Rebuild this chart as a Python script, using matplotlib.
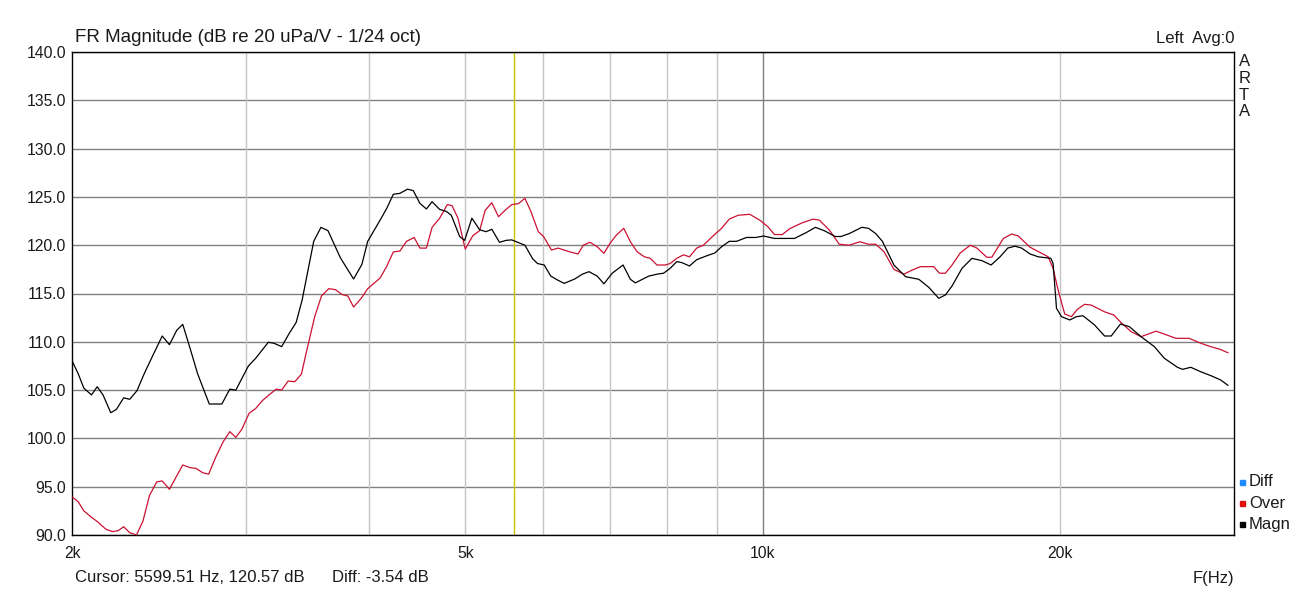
import matplotlib
matplotlib.use("Agg")
import matplotlib.pyplot as plt

plt.rcParams['font.family'] = ['Liberation Sans', 'DejaVu Sans']

# Magn (black)
magn_freq = [2003, 2029, 2056, 2093, 2121, 2150, 2189, 2218, 2256, 2288, 2327, 2369, 2415, 2468,
             2510, 2553, 2589, 2634, 2680, 2754, 2836, 2889, 2930, 3017, 3069, 3160, 3202, 3260,
             3315, 3372, 3419, 3513, 3573, 3632, 3738, 3855, 3930, 3984, 4101, 4164, 4229, 4295,
             4371, 4430, 4499, 4568, 4629, 4712, 4785, 4841, 4936, 4994, 5079, 5171, 5250, 5320,
             5416, 5499, 5573, 5651, 5747, 5851, 5919, 6011, 6104, 6200, 6297, 6454, 6570, 6672,
             6802, 6909, 7043, 7224, 7348, 7434, 7669, 7818, 7939, 8061, 8187, 8283, 8433, 8576,
             8778, 8948, 9088, 9252, 9410, 9631, 9840, 10025, 10283, 10771, 11067, 11309, 11547,
             11845, 12003, 12236, 12602, 12799, 13017, 13221, 13581, 13955, 14393, 14730, 15076,
             15311, 15551, 15915, 16288, 16670, 17033, 17393, 17707, 18008, 18290, 18646, 19007,
             19576, 19680, 19836, 20068, 20458, 20778, 21098, 21678, 22187, 22534, 23026, 23513,
             24158, 24916, 25500, 26298, 26604, 27127, 27764, 28414, 29080, 29577]
magn_db = [107.9, 106.7, 105.2, 104.5, 105.35, 104.5, 102.66, 103.0, 104.2, 104.05, 104.94, 106.8,
           108.6, 110.6, 109.7, 111.2, 111.8, 109.3, 106.7, 103.56, 103.56, 105.1, 105.0, 107.5,
           108.3, 109.95, 109.85, 109.5, 110.8, 112.0, 114.3, 120.4, 121.85, 121.5, 118.7, 116.5,
           118.0, 120.4, 122.6, 123.8, 125.27, 125.37, 125.8, 125.65, 124.34, 123.75, 124.5,
           123.7, 123.5, 123.1, 120.9, 120.5, 122.8, 121.6, 121.4, 121.65, 120.3, 120.5, 120.55,
           120.3, 120.0, 118.6, 118.1, 117.95, 116.8, 116.4, 116.05, 116.5, 117.0, 117.26, 116.8,
           116.0, 117.1, 117.95, 116.47, 116.1, 116.8, 117.0, 117.1, 117.6, 118.3, 118.2, 117.85,
           118.5, 118.9, 119.2, 119.84, 120.4, 120.4, 120.8, 120.8, 120.95, 120.7, 120.7, 121.3,
           121.85, 121.5, 120.9, 120.9, 121.2, 121.85, 121.75, 121.2, 120.4, 117.95, 116.74,
           116.47, 115.64, 114.5, 114.85, 115.78, 117.6, 118.64, 118.4, 117.95, 118.8, 119.7,
           119.9, 119.7, 119.1, 118.8, 118.64, 118.1, 113.47, 112.6, 112.26, 112.6, 112.7,
           111.74, 110.6, 110.6, 111.84, 111.56, 110.53, 109.5, 108.3, 107.36, 107.15, 107.36,
           106.9, 106.5, 106.05, 105.5]

# Over (red)
over_freq = [2003, 2029, 2056, 2093, 2121, 2164, 2198, 2227, 2256, 2288, 2324, 2359, 2396, 2437,
             2468, 2510, 2549, 2589, 2634, 2670, 2712, 2750, 2797, 2845, 2889, 2930, 2971, 3022,
             3069, 3116, 3165, 3219, 3260, 3310, 3362, 3414, 3451, 3521, 3577, 3638, 3695, 3752,
             3804, 3855, 3924, 3984, 4101, 4164, 4229, 4295, 4361, 4440, 4499, 4568, 4629, 4712,
             4796, 4849, 4917, 5001, 5091, 5171, 5238, 5320, 5404, 5499, 5573, 5660, 5747, 5827,
             5929, 6002, 6114, 6210, 6370, 6504, 6585, 6688, 6802, 6909, 7015, 7113, 7236, 7348,
             7463, 7591, 7697, 7818, 7969, 8061, 8187, 8315, 8433, 8576, 8710, 8915, 9088, 9252,
             9447, 9704, 9932, 10127, 10283, 10469, 10648, 10940, 11241, 11414, 11682, 11956,
             12236, 12543, 12799, 13017, 13271, 13581, 13900, 14174, 14449, 14901, 15100, 15311,
             15551, 15852, 16224, 16478, 16864, 17061, 17526, 17870, 18146, 18646, 19158, 19454,
             19680, 19911, 20220, 20538, 20826, 21182, 21514, 22187, 22672, 23063, 23605, 24158,
             25015, 25500, 26202, 27021, 27764, 28414, 29080, 29577]
over_db = [93.9, 93.45, 92.5, 91.83, 91.4, 90.6, 90.35, 90.45, 90.86, 90.24, 90.0, 91.4, 94.1, 95.5,
           95.6, 94.73, 96.0, 97.25, 96.97, 96.9, 96.45, 96.3, 98.1, 99.66, 100.7, 100.1, 100.94,
           102.6, 103.1, 103.9, 104.5, 105.1, 105.0, 105.94, 105.87, 106.67, 108.8, 112.6, 114.74,
           115.5, 115.4, 114.9, 114.74, 113.6, 114.5, 115.5, 116.6, 117.8, 119.3, 119.4, 120.4,
           120.8, 119.7, 119.7, 121.85, 122.8, 124.2, 124.1, 122.8, 119.6, 121.0, 121.5, 123.6,
           124.4, 122.95, 123.7, 124.2, 124.3, 124.85, 123.5, 121.4, 120.9, 119.5, 119.7, 119.33,
           119.09, 120.0, 120.3, 119.84, 119.16, 120.26, 121.05, 121.75, 120.36, 119.33, 118.8,
           118.64, 117.95, 117.95, 118.1, 118.64, 119.0, 118.8, 119.7, 120.0, 120.98, 121.75,
           122.7, 123.1, 123.2, 122.6, 121.9, 121.1, 121.1, 121.7, 122.27, 122.7, 122.6, 121.57,
           120.1, 120.0, 120.36, 120.1, 120.1, 119.33, 117.5, 117.0, 117.43, 117.78, 117.78,
           117.1, 117.1, 117.95, 119.2, 120.0, 119.7, 118.75, 118.75, 120.7, 121.16, 120.95,
           119.8, 119.16, 118.8, 117.6, 115.36, 112.88, 112.6, 113.36, 113.88, 113.8, 113.1,
           112.77, 111.98, 111.05, 110.53, 111.1, 110.8, 110.36, 110.36, 109.85, 109.5, 109.2,
           108.87]

cursor_freq = 5599.51
y_ticks = [90, 95, 100, 105, 110, 115, 120, 125, 130, 135, 140]
x_minor_grid = [3000, 4000, 5000, 6000, 7000, 8000, 9000, 20000]
x_major_grid = [10000]
x_tick_pos = [2000, 5000, 10000, 20000]
x_tick_lab = ["2k", "5k", "10k", "20k"]

W, H = 1306, 592
fig = plt.figure(figsize=(W / 100, H / 100), dpi=100)
ax = fig.add_axes([72 / W, 1 - 535 / H, (1234 - 72) / W, (535 - 52) / H])

txt = '#1a1a1a'
for y in y_ticks:
    ax.axhline(y, color='#808080', lw=1.0, zorder=1)
for f in x_minor_grid:
    ax.axvline(f, color='#c4c4c4', lw=1.0, zorder=1)
for f in x_major_grid:
    ax.axvline(f, color='#808080', lw=1.0, zorder=1)
ax.axvline(cursor_freq, color='#c8c400', lw=1.0, zorder=2)

ax.plot(over_freq, over_db, color='#cc1133', lw=0.9, zorder=3)
ax.plot(magn_freq, magn_db, color='black', lw=0.9, zorder=4)

ax.set_xscale('log')
ax.set_xlim(2000, 30000)
ax.set_ylim(90, 140)
ax.set_yticks(y_ticks)
ax.set_yticklabels([f"{v:.1f}" for v in y_ticks])
ax.set_xticks(x_tick_pos)
ax.set_xticklabels(x_tick_lab)
ax.xaxis.set_minor_locator(matplotlib.ticker.NullLocator())
ax.tick_params(length=0, labelsize=11.3, labelcolor=txt)
ax.tick_params(axis='y', pad=4)
ax.tick_params(axis='x', pad=8)
for s in ax.spines.values():
    s.set_linewidth(1.0)
    s.set_color('black')

fig.text(75 / W, 1 - 38 / H, "FR Magnitude (dB re 20 uPa/V - 1/24 oct)", fontsize=13.5,
         ha='left', va='center', color=txt)
fig.text(1234 / W, 1 - 39 / H, "Left  Avg:0", fontsize=12, ha='right', va='center', color=txt)
fig.text(1239 / W, 1 - 54 / H, "A\nR\nT\nA", fontsize=12, ha='left', va='top', color=txt,
         linespacing=1.15)
fig.text(75 / W, 1 - 578 / H, "Cursor: 5599.51 Hz, 120.57 dB", fontsize=12, ha='left',
         va='center', color=txt)
fig.text(332 / W, 1 - 578 / H, "Diff: -3.54 dB", fontsize=12, ha='left', va='center', color=txt)
fig.text(1234 / W, 1 - 578 / H, "F(Hz)", fontsize=12, ha='right', va='center', color=txt)

legend_items = [("Diff", '#1e8cff'), ("Over", '#e01010'), ("Magn", 'black')]
for i, (name, col) in enumerate(legend_items):
    yy = 1 - (482 + 21 * i) / H
    fig.patches.append(plt.Rectangle((1240 / W, yy - 2.5 / H), 5 / W, 5 / H, color=col,
                                     transform=fig.transFigure, figure=fig))
    fig.text(1249 / W, yy, name, fontsize=12, ha='left', va='center', color=txt)

fig.savefig("out.png", dpi=100)
